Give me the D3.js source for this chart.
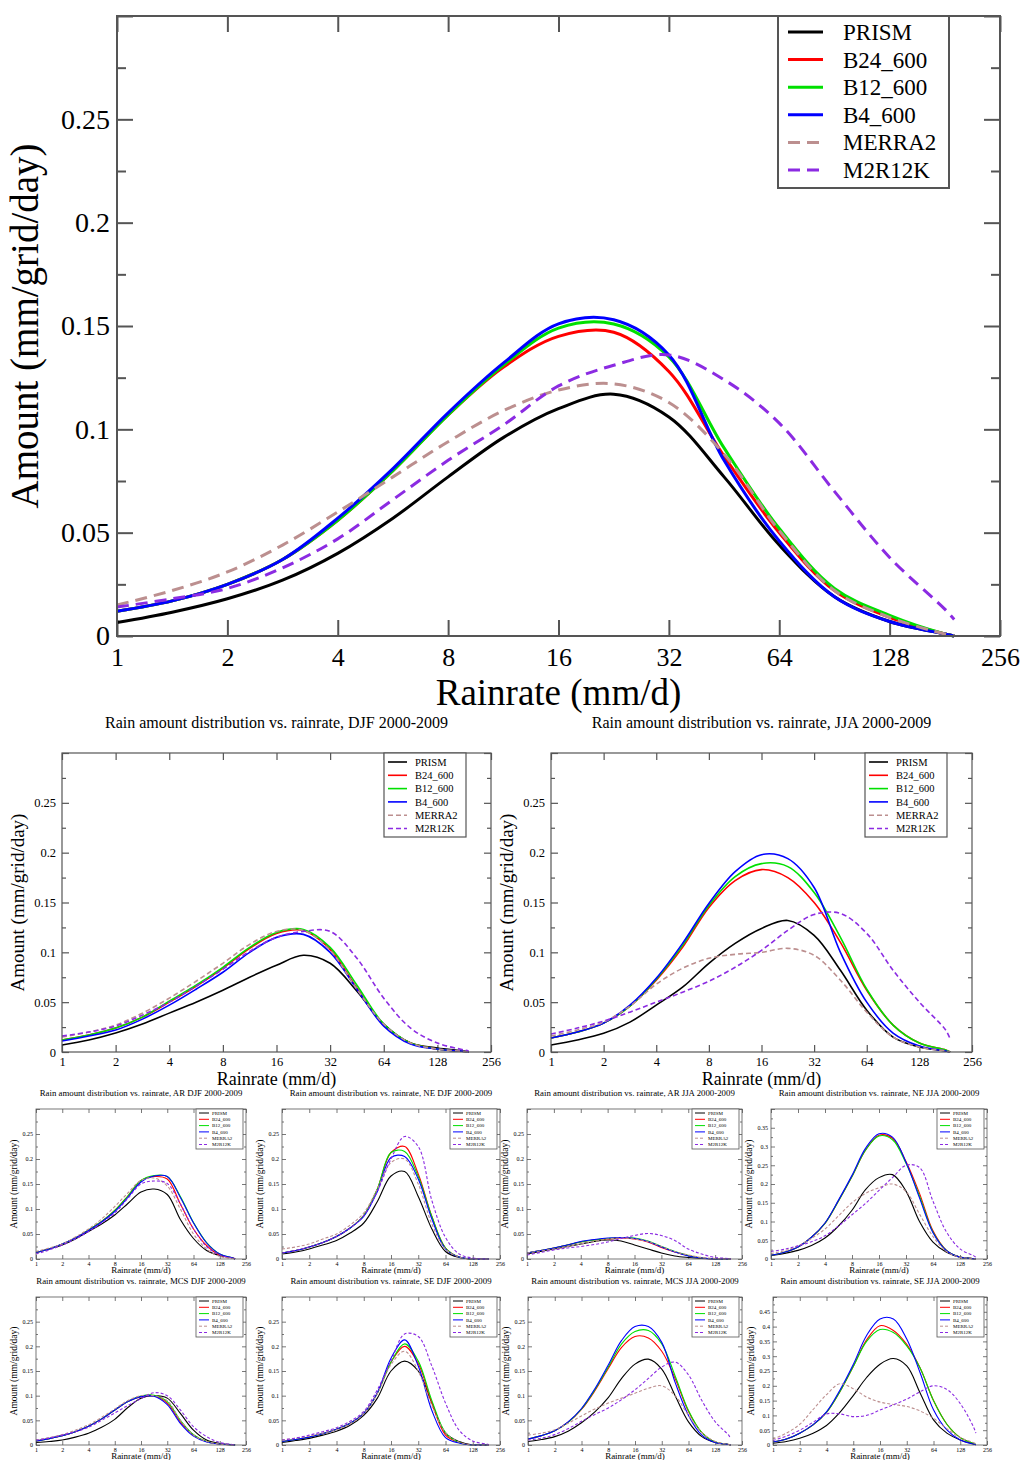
<!DOCTYPE html>
<html><head><meta charset="utf-8">
<script src="https://cdn.jsdelivr.net/npm/d3@7"></script>
<style>body{margin:0;background:#fff} svg{display:block}</style>
</head><body>
<svg id="c" width="1033" height="1460"></svg>
<script>
// ---------- DATA ----------
const rainrate = [1, 1.414, 2, 2.828, 4, 5.657, 8, 11.31, 16, 22.63, 32, 45.25, 64, 90.51, 128, 181, 192];
const seriesNames = ["PRISM", "B24_600", "B12_600", "B4_600", "MERRA2", "M2R12K"];
const xTicks = [1, 2, 4, 8, 16, 32, 64, 128, 256];
const yTicks30 = [0, 0.05, 0.1, 0.15, 0.2, 0.25, 0.3];
const yMinor30 = [0.025, 0.075, 0.125, 0.175, 0.225, 0.275];
const yTicks40 = [0, 0.05, 0.1, 0.15, 0.2, 0.25, 0.3, 0.35, 0.4];
const yMinor40 = [0.025, 0.075, 0.125, 0.175, 0.225, 0.275, 0.325, 0.375];
const yTicks50 = [0, 0.05, 0.1, 0.15, 0.2, 0.25, 0.3, 0.35, 0.4, 0.45, 0.5];
const yMinor50 = [0.025, 0.075, 0.125, 0.175, 0.225, 0.275, 0.325, 0.375, 0.425, 0.475];

// each array: PRISM, B24_600, B12_600, B4_600, MERRA2, M2R12K (values at rainrate points)
const annValues = [
  [0.0065, 0.0115, 0.018, 0.027, 0.040, 0.057, 0.077, 0.096, 0.110, 0.117, 0.106, 0.077, 0.044, 0.019, 0.007, 0.001, 0],
  [0.012, 0.017, 0.025, 0.037, 0.056, 0.080, 0.107, 0.130, 0.145, 0.147, 0.128, 0.087, 0.050, 0.022, 0.009, 0.001, 0],
  [0.012, 0.017, 0.025, 0.037, 0.056, 0.080, 0.107, 0.131, 0.149, 0.151, 0.135, 0.091, 0.052, 0.023, 0.010, 0.001, 0],
  [0.012, 0.017, 0.025, 0.037, 0.057, 0.081, 0.108, 0.132, 0.151, 0.153, 0.136, 0.085, 0.046, 0.019, 0.007, 0.001, 0],
  [0.015, 0.022, 0.031, 0.044, 0.060, 0.077, 0.094, 0.109, 0.119, 0.122, 0.113, 0.088, 0.051, 0.022, 0.009, 0.001, 0],
  [0.014, 0.018, 0.023, 0.033, 0.047, 0.066, 0.085, 0.102, 0.121, 0.131, 0.136, 0.124, 0.103, 0.070, 0.038, 0.013, 0.008]
];
const djfValues = [
  [0.007, 0.012, 0.019, 0.028, 0.039, 0.050, 0.062, 0.075, 0.087, 0.097, 0.089, 0.061, 0.028, 0.009, 0.004, 0.001, 0],
  [0.012, 0.017, 0.024, 0.035, 0.050, 0.066, 0.084, 0.104, 0.119, 0.122, 0.103, 0.064, 0.027, 0.009, 0.003, 0.0005, 0],
  [0.012, 0.017, 0.024, 0.035, 0.051, 0.067, 0.085, 0.105, 0.120, 0.123, 0.105, 0.067, 0.028, 0.009, 0.003, 0.0005, 0],
  [0.011, 0.016, 0.022, 0.033, 0.047, 0.063, 0.080, 0.100, 0.115, 0.118, 0.100, 0.063, 0.026, 0.008, 0.003, 0.0005, 0],
  [0.015, 0.020, 0.027, 0.039, 0.054, 0.071, 0.089, 0.108, 0.121, 0.122, 0.102, 0.063, 0.028, 0.009, 0.003, 0.0005, 0],
  [0.016, 0.020, 0.026, 0.037, 0.050, 0.066, 0.083, 0.101, 0.115, 0.121, 0.121, 0.094, 0.054, 0.024, 0.009, 0.002, 0.001]
];
const jjaValues = [
  [0.007, 0.012, 0.0187, 0.030, 0.047, 0.065, 0.089, 0.109, 0.124, 0.132, 0.117, 0.082, 0.042, 0.015, 0.005, 0.001, 0],
  [0.014, 0.020, 0.029, 0.046, 0.072, 0.105, 0.145, 0.172, 0.183, 0.175, 0.150, 0.110, 0.062, 0.027, 0.009, 0.002, 0],
  [0.014, 0.020, 0.029, 0.046, 0.073, 0.107, 0.147, 0.176, 0.189, 0.186, 0.160, 0.115, 0.063, 0.027, 0.009, 0.002, 0],
  [0.014, 0.020, 0.029, 0.047, 0.074, 0.109, 0.149, 0.181, 0.198, 0.194, 0.165, 0.100, 0.050, 0.019, 0.006, 0.001, 0],
  [0.016, 0.022, 0.030, 0.046, 0.068, 0.084, 0.094, 0.098, 0.100, 0.104, 0.097, 0.072, 0.040, 0.015, 0.005, 0.001, 0],
  [0.018, 0.024, 0.031, 0.040, 0.050, 0.060, 0.071, 0.085, 0.102, 0.122, 0.138, 0.139, 0.119, 0.082, 0.050, 0.022, 0.013]
];
const arDjfValues = [
  [0.013, 0.020, 0.028, 0.040, 0.055, 0.070, 0.088, 0.111, 0.134, 0.140, 0.129, 0.079, 0.041, 0.017, 0.007, 0.002, 0],
  [0.013, 0.020, 0.030, 0.042, 0.058, 0.075, 0.097, 0.126, 0.157, 0.165, 0.160, 0.110, 0.060, 0.027, 0.008, 0.002, 0],
  [0.013, 0.020, 0.030, 0.042, 0.058, 0.075, 0.097, 0.126, 0.157, 0.167, 0.165, 0.125, 0.073, 0.033, 0.010, 0.002, 0],
  [0.013, 0.020, 0.030, 0.042, 0.057, 0.074, 0.095, 0.123, 0.154, 0.166, 0.165, 0.123, 0.072, 0.032, 0.010, 0.002, 0],
  [0.015, 0.022, 0.030, 0.044, 0.060, 0.080, 0.105, 0.132, 0.157, 0.162, 0.146, 0.100, 0.050, 0.020, 0.005, 0.001, 0],
  [0.010, 0.018, 0.028, 0.040, 0.055, 0.072, 0.092, 0.121, 0.150, 0.156, 0.151, 0.110, 0.060, 0.025, 0.008, 0.002, 0.001]
];
const neDjfValues = [
  [0.010, 0.014, 0.020, 0.028, 0.037, 0.052, 0.072, 0.115, 0.166, 0.175, 0.125, 0.060, 0.015, 0.003, 0, 0, 0],
  [0.012, 0.017, 0.024, 0.033, 0.045, 0.062, 0.087, 0.140, 0.213, 0.225, 0.170, 0.085, 0.022, 0.004, 0, 0, 0],
  [0.012, 0.017, 0.024, 0.033, 0.045, 0.062, 0.087, 0.140, 0.213, 0.215, 0.165, 0.085, 0.022, 0.004, 0, 0, 0],
  [0.012, 0.017, 0.024, 0.033, 0.045, 0.062, 0.085, 0.135, 0.203, 0.205, 0.160, 0.080, 0.020, 0.004, 0, 0, 0],
  [0.020, 0.024, 0.030, 0.040, 0.050, 0.068, 0.092, 0.140, 0.193, 0.200, 0.150, 0.070, 0.020, 0.004, 0, 0, 0],
  [0.012, 0.017, 0.024, 0.033, 0.045, 0.062, 0.087, 0.135, 0.200, 0.245, 0.225, 0.117, 0.043, 0.010, 0.002, 0, 0]
];
const arJjaValues = [
  [0.010, 0.015, 0.020, 0.025, 0.030, 0.035, 0.038, 0.036, 0.028, 0.020, 0.012, 0.006, 0.003, 0.001, 0, 0, 0],
  [0.012, 0.017, 0.022, 0.028, 0.034, 0.038, 0.040, 0.042, 0.040, 0.034, 0.023, 0.014, 0.007, 0.002, 0, 0, 0],
  [0.012, 0.017, 0.022, 0.028, 0.034, 0.038, 0.041, 0.043, 0.042, 0.036, 0.025, 0.015, 0.007, 0.002, 0, 0, 0],
  [0.012, 0.017, 0.022, 0.028, 0.035, 0.039, 0.042, 0.043, 0.041, 0.035, 0.024, 0.014, 0.006, 0.002, 0, 0, 0],
  [0.012, 0.016, 0.020, 0.025, 0.030, 0.035, 0.040, 0.042, 0.040, 0.035, 0.025, 0.015, 0.008, 0.003, 0.001, 0, 0],
  [0.008, 0.013, 0.018, 0.022, 0.025, 0.029, 0.034, 0.041, 0.047, 0.051, 0.047, 0.037, 0.020, 0.010, 0.003, 0.001, 0]
];
const neJjaValues = [
  [0.009, 0.015, 0.023, 0.036, 0.056, 0.088, 0.130, 0.185, 0.217, 0.225, 0.181, 0.100, 0.045, 0.018, 0.005, 0.001, 0],
  [0.010, 0.018, 0.032, 0.058, 0.095, 0.155, 0.220, 0.290, 0.330, 0.322, 0.260, 0.175, 0.075, 0.023, 0.005, 0.001, 0],
  [0.010, 0.018, 0.032, 0.058, 0.095, 0.155, 0.220, 0.290, 0.328, 0.318, 0.255, 0.168, 0.072, 0.023, 0.005, 0.001, 0],
  [0.010, 0.018, 0.032, 0.058, 0.096, 0.157, 0.223, 0.295, 0.334, 0.325, 0.258, 0.163, 0.070, 0.022, 0.005, 0.001, 0],
  [0.015, 0.022, 0.035, 0.055, 0.080, 0.115, 0.150, 0.175, 0.190, 0.200, 0.180, 0.120, 0.060, 0.020, 0.005, 0.001, 0],
  [0.020, 0.026, 0.035, 0.046, 0.062, 0.088, 0.118, 0.148, 0.183, 0.217, 0.250, 0.244, 0.154, 0.072, 0.027, 0.009, 0.005]
];
const mcsDjfValues = [
  [0.005, 0.007, 0.010, 0.016, 0.024, 0.036, 0.052, 0.076, 0.095, 0.100, 0.095, 0.064, 0.030, 0.010, 0.003, 0.001, 0],
  [0.008, 0.013, 0.019, 0.027, 0.038, 0.053, 0.071, 0.088, 0.098, 0.100, 0.085, 0.047, 0.020, 0.007, 0.002, 0, 0],
  [0.008, 0.013, 0.019, 0.027, 0.038, 0.053, 0.071, 0.088, 0.099, 0.101, 0.088, 0.050, 0.021, 0.007, 0.002, 0, 0],
  [0.008, 0.013, 0.019, 0.027, 0.038, 0.053, 0.071, 0.088, 0.098, 0.099, 0.082, 0.044, 0.018, 0.006, 0.002, 0, 0],
  [0.010, 0.015, 0.021, 0.030, 0.041, 0.056, 0.073, 0.090, 0.100, 0.100, 0.090, 0.050, 0.020, 0.007, 0.002, 0, 0],
  [0.010, 0.014, 0.020, 0.027, 0.036, 0.050, 0.065, 0.080, 0.094, 0.106, 0.100, 0.071, 0.037, 0.017, 0.005, 0.001, 0]
];
const seDjfValues = [
  [0.005, 0.009, 0.0135, 0.020, 0.028, 0.040, 0.060, 0.095, 0.150, 0.170, 0.150, 0.085, 0.024, 0.007, 0, 0, 0],
  [0.007, 0.011, 0.016, 0.023, 0.032, 0.044, 0.064, 0.105, 0.168, 0.200, 0.165, 0.085, 0.020, 0.005, 0, 0, 0],
  [0.007, 0.011, 0.016, 0.023, 0.032, 0.044, 0.064, 0.105, 0.168, 0.205, 0.170, 0.090, 0.025, 0.005, 0, 0, 0],
  [0.007, 0.011, 0.016, 0.023, 0.032, 0.044, 0.064, 0.106, 0.176, 0.213, 0.160, 0.070, 0.015, 0.004, 0, 0, 0],
  [0.010, 0.014, 0.018, 0.024, 0.031, 0.043, 0.063, 0.104, 0.163, 0.190, 0.150, 0.080, 0.025, 0.006, 0, 0, 0],
  [0.010, 0.014, 0.020, 0.027, 0.035, 0.048, 0.068, 0.112, 0.170, 0.225, 0.220, 0.160, 0.085, 0.030, 0.008, 0.002, 0.001]
];
const mcsJjaValues = [
  [0.007, 0.011, 0.017, 0.028, 0.045, 0.067, 0.096, 0.135, 0.164, 0.174, 0.154, 0.100, 0.047, 0.017, 0.005, 0.001, 0],
  [0.012, 0.019, 0.029, 0.046, 0.072, 0.110, 0.155, 0.198, 0.220, 0.217, 0.190, 0.135, 0.068, 0.025, 0.006, 0.001, 0],
  [0.012, 0.019, 0.029, 0.046, 0.073, 0.112, 0.158, 0.205, 0.230, 0.232, 0.205, 0.140, 0.070, 0.025, 0.006, 0.001, 0],
  [0.012, 0.019, 0.029, 0.047, 0.074, 0.114, 0.162, 0.212, 0.240, 0.240, 0.208, 0.127, 0.060, 0.020, 0.005, 0.001, 0],
  [0.020, 0.024, 0.031, 0.044, 0.059, 0.073, 0.085, 0.095, 0.105, 0.115, 0.120, 0.100, 0.060, 0.025, 0.007, 0.001, 0],
  [0.010, 0.014, 0.021, 0.033, 0.048, 0.062, 0.075, 0.092, 0.112, 0.135, 0.158, 0.168, 0.142, 0.090, 0.047, 0.020, 0.012]
];
const seJjaValues = [
  [0.006, 0.012, 0.023, 0.040, 0.066, 0.110, 0.167, 0.228, 0.273, 0.292, 0.267, 0.176, 0.085, 0.040, 0.017, 0.003, 0.001],
  [0.010, 0.020, 0.040, 0.068, 0.110, 0.180, 0.265, 0.355, 0.403, 0.387, 0.340, 0.260, 0.150, 0.070, 0.025, 0.005, 0.002],
  [0.010, 0.020, 0.040, 0.068, 0.110, 0.180, 0.265, 0.350, 0.390, 0.380, 0.335, 0.260, 0.150, 0.070, 0.025, 0.005, 0.002],
  [0.010, 0.020, 0.040, 0.069, 0.112, 0.185, 0.272, 0.370, 0.426, 0.426, 0.358, 0.244, 0.119, 0.051, 0.017, 0.003, 0.001],
  [0.020, 0.040, 0.070, 0.120, 0.170, 0.207, 0.190, 0.162, 0.145, 0.137, 0.130, 0.115, 0.090, 0.055, 0.025, 0.008, 0.004],
  [0.015, 0.030, 0.050, 0.077, 0.105, 0.105, 0.096, 0.100, 0.118, 0.136, 0.155, 0.180, 0.200, 0.188, 0.140, 0.060, 0.040]
];

// ---------- STYLE / LAYOUT ----------
const seriesColors = ["#000000", "#ff0000", "#00e000", "#0000ff", "#bc8f8f", "#8b2be2"];
const seriesDashed = [false, false, false, false, true, true];
const FONT = "'Liberation Serif', 'Times New Roman', serif";
const AXIS_COLOR = "#555";

const styles = {
  L: {tick: 26, tickY: 28, yTitle: 39, xTitle: 37, lw: 3, dash: "12,7", major: 16, minor: 9, frame: 2,
      yGap: 7, xLab: 30, yTitleOff: 79, xTitleOff: 69, titleOff: 0, titleFont: 0,
      leg: {font: 23, left: 222, right: 51, h: 172, first: 16, step: 27.6, l0: 10, l1: 45, tx: 65, lw: 3, dash: "12,7"}},
  M: {tick: 12.5, tickY: 12.5, yTitle: 19, xTitle: 18, lw: 1.6, dash: "5,3", major: 7, minor: 4, frame: 1.2,
      yGap: 6, xLab: 14, yTitleOff: 38, xTitleOff: 33, titleOff: 25, titleFont: 16,
      leg: {font: 10.5, left: 107, right: 25, h: 84, first: 9, step: 13.3, l0: 4, l1: 23, tx: 31, lw: 1.6, dash: "5,3"}},
  S: {tick: 6, tickY: 6, yTitle: 9.5, xTitle: 9, lw: 1.1, dash: "3,2", major: 4, minor: 2, frame: 0.8,
      yGap: 3, xLab: 7, yTitleOff: 19, xTitleOff: 14, titleOff: 13, titleFont: 8.8,
      leg: {font: 5, left: 50, right: 3, h: 40, first: 4, step: 6.3, l0: 3, l1: 13, tx: 16, lw: 1, dash: "3,2"}}
};

const T = "Rain amount distribution vs. rainrate, ";
const panels = [
  {vals: annValues, size: "L", left: 117, top: 16, right: 1000, bottom: 636, ymax: 0.3, yt: yTicks30, ym: yMinor30, title: null},
  {vals: djfValues, size: "M", left: 62, top: 753, right: 491, bottom: 1052, ymax: 0.3, yt: yTicks30, ym: yMinor30, title: T + "DJF 2000-2009"},
  {vals: jjaValues, size: "M", left: 551, top: 753, right: 972, bottom: 1052, ymax: 0.3, yt: yTicks30, ym: yMinor30, title: T + "JJA 2000-2009"},
  {vals: arDjfValues, size: "S", left: 36, top: 1109, right: 246, bottom: 1259, ymax: 0.3, yt: yTicks30, ym: yMinor30, title: T + "AR DJF 2000-2009"},
  {vals: neDjfValues, size: "S", left: 282, top: 1109, right: 500, bottom: 1259, ymax: 0.3, yt: yTicks30, ym: yMinor30, title: T + "NE DJF 2000-2009"},
  {vals: arJjaValues, size: "S", left: 527, top: 1109, right: 742, bottom: 1259, ymax: 0.3, yt: yTicks30, ym: yMinor30, title: T + "AR JJA 2000-2009"},
  {vals: neJjaValues, size: "S", left: 771, top: 1109, right: 987, bottom: 1259, ymax: 0.4, yt: yTicks40, ym: yMinor40, title: T + "NE JJA 2000-2009"},
  {vals: mcsDjfValues, size: "S", left: 36, top: 1297, right: 246, bottom: 1445, ymax: 0.3, yt: yTicks30, ym: yMinor30, title: T + "MCS DJF 2000-2009"},
  {vals: seDjfValues, size: "S", left: 282, top: 1297, right: 500, bottom: 1445, ymax: 0.3, yt: yTicks30, ym: yMinor30, title: T + "SE DJF 2000-2009"},
  {vals: mcsJjaValues, size: "S", left: 528, top: 1297, right: 742, bottom: 1445, ymax: 0.3, yt: yTicks30, ym: yMinor30, title: T + "MCS JJA 2000-2009"},
  {vals: seJjaValues, size: "S", left: 773, top: 1297, right: 987, bottom: 1445, ymax: 0.5, yt: yTicks50, ym: yMinor50, title: T + "SE JJA 2000-2009"}
];

const svg = d3.select("#c");
svg.append("rect").attr("width", 1033).attr("height", 1460).attr("fill", "#fff");

function styleAxis(sel, st, showText, fs) {
  sel.select(".domain").remove();
  sel.selectAll(".tick line").attr("stroke", AXIS_COLOR).attr("stroke-width", st.frame);
  sel.selectAll("text").attr("font-family", FONT).attr("font-size", fs).attr("fill", "#000");
  if (!showText) sel.selectAll("text").remove();
}

function drawPanel(p) {
  const st = styles[p.size];
  const g = svg.append("g");
  const x = d3.scaleLog().base(2).domain([1, 256]).range([p.left, p.right]);
  const y = d3.scaleLinear().domain([0, p.ymax]).range([p.bottom, p.top]);
  const fmt = d => (Math.abs(d - p.ymax) < 1e-9) ? "" : String(d);

  const gb = g.append("g").attr("transform", `translate(0,${p.bottom})`)
    .call(d3.axisBottom(x).tickValues(xTicks).tickSize(-st.major).tickFormat(d3.format("d")));
  styleAxis(gb, st, true, st.tick);
  gb.selectAll("text").attr("y", st.xLab).attr("dy", null);
  const gt = g.append("g").attr("transform", `translate(0,${p.top})`)
    .call(d3.axisTop(x).tickValues(xTicks).tickSize(-st.major).tickFormat(""));
  styleAxis(gt, st, false, st.tick);
  const gl = g.append("g").attr("transform", `translate(${p.left},0)`)
    .call(d3.axisLeft(y).tickValues(p.yt).tickSize(-st.major).tickPadding(st.yGap).tickFormat(fmt));
  styleAxis(gl, st, true, st.tickY);
  const glm = g.append("g").attr("transform", `translate(${p.left},0)`)
    .call(d3.axisLeft(y).tickValues(p.ym).tickSize(-st.minor).tickFormat(""));
  styleAxis(glm, st, false, st.tickY);
  const gr = g.append("g").attr("transform", `translate(${p.right},0)`)
    .call(d3.axisRight(y).tickValues(p.yt).tickSize(-st.major).tickFormat(""));
  styleAxis(gr, st, false, st.tickY);
  const grm = g.append("g").attr("transform", `translate(${p.right},0)`)
    .call(d3.axisRight(y).tickValues(p.ym).tickSize(-st.minor).tickFormat(""));
  styleAxis(grm, st, false, st.tickY);

  const line = d3.line()
    .x((d, i) => x(rainrate[i]))
    .y(d => y(d))
    .curve(d3.curveCatmullRom.alpha(0.5));
  p.vals.forEach((vals, k) => {
    g.append("path").attr("d", line(vals))
      .attr("fill", "none")
      .attr("stroke", seriesColors[k])
      .attr("stroke-width", st.lw)
      .attr("stroke-dasharray", seriesDashed[k] ? st.dash : null)
      .attr("stroke-linejoin", "round");
  });

  g.append("rect").attr("x", p.left).attr("y", p.top)
    .attr("width", p.right - p.left).attr("height", p.bottom - p.top)
    .attr("fill", "none").attr("stroke", AXIS_COLOR).attr("stroke-width", st.frame);

  const L = st.leg;
  const bx = p.right - L.left, bw = L.left - L.right;
  const lg = g.append("g");
  lg.append("rect").attr("x", bx).attr("y", p.top).attr("width", bw).attr("height", L.h)
    .attr("fill", "#fff").attr("stroke", AXIS_COLOR).attr("stroke-width", st.frame);
  seriesNames.forEach((name, k) => {
    const yy = p.top + L.first + k * L.step;
    lg.append("line").attr("x1", bx + L.l0).attr("x2", bx + L.l1).attr("y1", yy).attr("y2", yy)
      .attr("stroke", seriesColors[k]).attr("stroke-width", L.lw)
      .attr("stroke-dasharray", seriesDashed[k] ? L.dash : null);
    lg.append("text").attr("x", bx + L.tx).attr("y", yy).attr("dy", "0.35em")
      .attr("font-family", FONT).attr("font-size", L.font).text(name);
  });

  const cy = (p.top + p.bottom) / 2, cx = (p.left + p.right) / 2;
  g.append("text").attr("transform", `translate(${p.left - st.yTitleOff},${cy}) rotate(-90)`)
    .attr("text-anchor", "middle").attr("font-family", FONT).attr("font-size", st.yTitle)
    .text("Amount (mm/grid/day)");
  g.append("text").attr("x", cx).attr("y", p.bottom + st.xTitleOff)
    .attr("text-anchor", "middle").attr("font-family", FONT).attr("font-size", st.xTitle)
    .text("Rainrate (mm/d)");
  if (p.title) {
    g.append("text").attr("x", cx).attr("y", p.top - st.titleOff)
      .attr("text-anchor", "middle").attr("font-family", FONT).attr("font-size", st.titleFont)
      .text(p.title);
  }
}

panels.forEach(drawPanel);
</script></body></html>
